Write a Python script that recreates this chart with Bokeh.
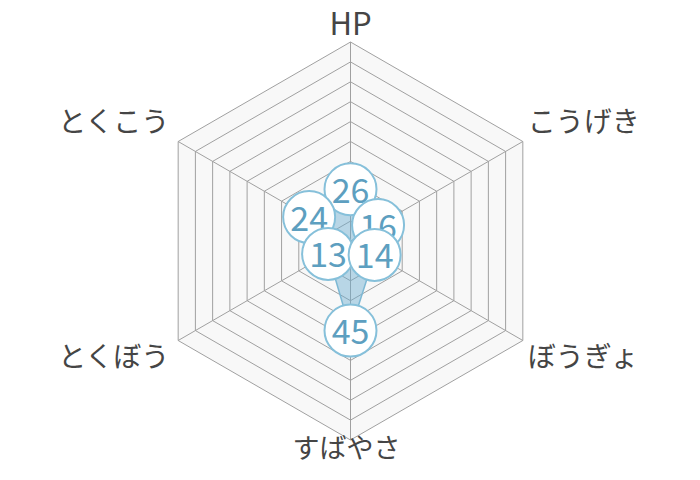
import math
from bokeh.plotting import figure
from bokeh.models import Range1d
from bokeh.core.properties import value
from bokeh.embed import file_html
from bokeh.resources import INLINE

# ---- data ----
categories = ["HP", "こうげき", "ぼうぎょ", "すばやさ", "とくぼう", "とくこう"]
stats = [26, 16, 14, 45, 13, 24]
max_value = 100
ring_steps = 10
draw_order = [0, 1, 5, 4, 2, 3]  # order in which value bubbles are stacked

# ---- layout / style ----
W, H = 684, 464
cx, cy = 350.0, 240.5          # centre in figure pixels (from top-left)
R = 199.0                      # outer radius, pixels
scale = R / max_value
FONT = "Noto Sans CJK JP"

p = figure(width=W, height=H, output_backend="svg", toolbar_location=None,
           x_range=Range1d(-cx, W - cx), y_range=Range1d(-(H - cy), cy),
           min_border=0, outline_line_color=None)
p.axis.visible = False
p.grid.visible = False
p.background_fill_color = "white"
p.border_fill_color = "white"

n = len(categories)
angles = [math.pi / 2 - i * 2 * math.pi / n for i in range(n)]

def ring(r):
    return [r * math.cos(a) for a in angles], [r * math.sin(a) for a in angles]

# background hexagon
bx, by = ring(R)
p.patch(bx, by, fill_color="#f8f8f8", line_color=None)

# rings
for k in range(1, ring_steps + 1):
    rx, ry = ring(R * k / ring_steps)
    p.patch(rx, ry, fill_color=None, line_color="#a0a0a0", line_width=1)

# spokes
p.multi_line([[0, R * math.cos(a)] for a in angles],
             [[0, R * math.sin(a)] for a in angles],
             line_color="#a0a0a0", line_width=1)

# data polygon
px = [v * scale * math.cos(a) for v, a in zip(stats, angles)]
py = [v * scale * math.sin(a) for v, a in zip(stats, angles)]
p.patch(px, py, fill_color="#6aaed0", fill_alpha=0.45,
        line_color="#7db8d4", line_width=1.5)

# value bubbles
for i in draw_order:
    p.scatter([px[i]], [py[i]], size=52, marker="circle", fill_color="white",
              line_color="#86c0da", line_width=2)
    p.text([px[i]], [py[i]], text=[str(stats[i])], text_font=value(FONT),
           text_font_size="34px", text_color="#5d9fc0", text_align="center",
           text_baseline="middle", y_offset=1)

# category labels
label_align = ["center", "left", "left", "center", "right", "right"]
label_size = ["31px", "28px", "28px", "27px", "28px", "28px"]
label_dx = [0, 5, 5, -4, -8, -8]
label_dy = [21, 22, -14, -6, -14, 22]
for i, name in enumerate(categories):
    lx = R * math.cos(angles[i])
    ly = R * math.sin(angles[i])
    p.text([lx], [ly], text=[name], text_font=value(FONT), text_font_size=label_size[i],
           text_color="#454545", text_align=label_align[i], text_baseline="middle",
           x_offset=label_dx[i], y_offset=-label_dy[i])

open("out.html", "w").write(file_html(p, INLINE))
